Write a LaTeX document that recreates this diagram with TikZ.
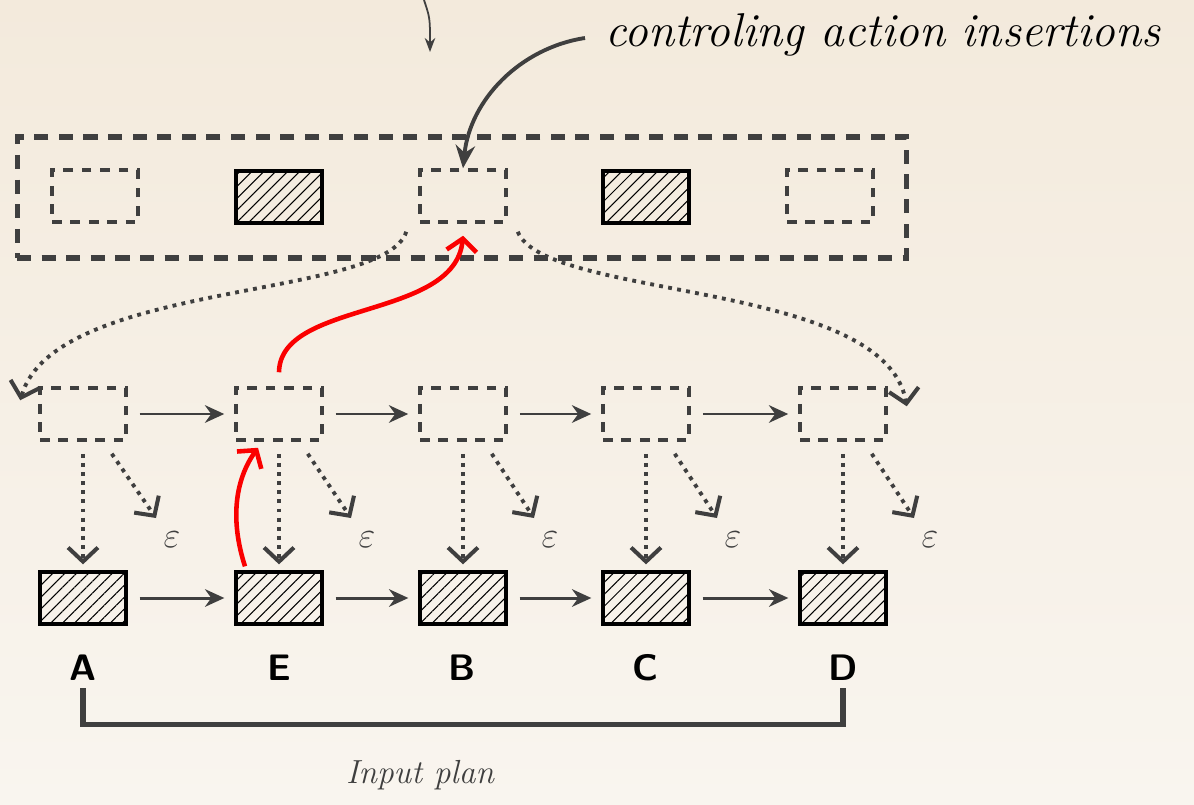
\documentclass[tikz,border=0pt]{standalone}
\usetikzlibrary{arrows.meta,patterns.meta}
\definecolor{ink}{HTML}{3F3F3F}
\definecolor{bgtop}{RGB}{243,234,220}
\definecolor{bgbot}{RGB}{249,245,239}
\definecolor{redline}{RGB}{250,0,0}
\tikzset{
  dbox/.style={draw=ink, line width=2pt, dash pattern=on 5.5pt off 5pt, minimum width=1.72cm, minimum height=1.04cm, inner sep=0pt},
  hbox/.style={draw=black, line width=1.9pt, pattern={Lines[angle=45,distance=4.8pt,line width=0.6pt]}, minimum width=1.72cm, minimum height=1.04cm, inner sep=0pt},
  outerbox/.style={draw=ink, line width=2.9pt, dash pattern=on 8pt off 6pt, minimum width=17.8cm, minimum height=2.42cm, inner sep=0pt},
  flow/.style={draw=ink, line width=1.7pt, -{Stealth[length=11pt,width=10pt]}, shorten <=0.24cm, shorten >=0.2cm},
  dotarrow/.style={draw=ink, line width=2.2pt, dash pattern=on 2.2pt off 3pt, -{Straight Barb[length=8pt,width=17pt,line width=2.3pt]}},
  redarrow/.style={draw=redline, line width=2.6pt, -{Straight Barb[length=7pt,width=17pt,line width=2.6pt]}},
  eps/.style={font=\fontsize{22}{26}\selectfont, text=ink, inner sep=0pt},
  letter/.style={font=\sffamily\bfseries\fontsize{21}{26}\selectfont, inner sep=2pt},
  hand/.style={font=\itshape\fontsize{27}{30}\selectfont, inner sep=0pt},
}
\begin{document}
\begin{tikzpicture}[x=0.02cm, y=-0.02cm]
\fill[top color=bgtop, bottom color=bgbot] (0,0) rectangle (1194,805);
\useasboundingbox (0,0) rectangle (1194,805);

% outer container
\node[outerbox] (outer) at (462,197.5) {};
% top row
\node[dbox] (t1) at (95,196) {};
\node[hbox] (t2) at (279,197) {};
\node[dbox] (t3) at (463,196) {};
\node[hbox] (t4) at (646,197) {};
\node[dbox] (t5) at (830,196) {};

% middle row
\node[dbox] (m1) at (83,414) {};
\node[dbox] (m2) at (279,414) {};
\node[dbox] (m3) at (463,414) {};
\node[dbox] (m4) at (646,414) {};
\node[dbox] (m5) at (843,414) {};

% bottom row
\node[hbox] (b1) at (83,598) {};
\node[hbox] (b2) at (279,598) {};
\node[hbox] (b3) at (463,598) {};
\node[hbox] (b4) at (646,598) {};
\node[hbox] (b5) at (843,598) {};

% epsilons
\node[eps] (e1) at (172,540) {$\varepsilon$};
\node[eps] (e2) at (367,540) {$\varepsilon$};
\node[eps] (e3) at (550,540) {$\varepsilon$};
\node[eps] (e4) at (733,540) {$\varepsilon$};
\node[eps] (e5) at (930,540) {$\varepsilon$};

% horizontal flows
\foreach \a/\b in {m1/m2,m2/m3,m3/m4,m4/m5,b1/b2,b2/b3,b3/b4,b4/b5}
  \draw[flow] (\a.east) -- (\b.west);

% dotted down arrows and epsilon arrows
\foreach \i in {1,...,5}{
  \draw[dotarrow, shorten <=0.24cm, shorten >=0.12cm] (m\i.south) -- (b\i.north);
  \draw[dotarrow] ([shift={(-16,12)}]m\i.south east) -- ([shift={(-16,-22)}]e\i.center);
}

% dotted curves from the inserted slot
\draw[dotarrow] ([shift={(-12,8)}]t3.south west) .. controls (385,300) and (55,280) .. ([shift={(-18,14)}]m1.north west);
\draw[dotarrow] ([shift={(10,8)}]t3.south east) .. controls (545,300) and (885,280) .. ([shift={(19,20)}]m5.north east);

% red insertion arrows
\draw[redarrow] ([shift={(-34,-4)}]b2.north) .. controls (230,520) and (235,480) .. ([shift={(-21,6)}]m2.south);
\draw[redarrow] ([shift={(0,-14)}]m2.north) .. controls (280,300) and (455,320) .. ([shift={(0,12)}]t3.south);

% annotation
\node[hand, anchor=west] (lab) at (605,35) {controling action insertions};
\coordinate (labstart) at (585,38);
\draw[ink, line width=2.2pt, -{Stealth[length=13pt,width=11pt]}] (labstart) .. controls (520,48) and (470,100) .. (t3.north);
\coordinate (topstart) at (424,0);
\coordinate (topend) at (430,52);
\draw[ink, line width=1pt, -{Stealth[length=8pt,width=6pt]}] (topstart) .. controls (430,18) .. (topend);

% letters
\node[letter] (lA) at (83,668) {A};
\node[letter] (lE) at (279,668) {E};
\node[letter] (lB) at (462,668) {B};
\node[letter] (lC) at (645,668) {C};
\node[letter] (lD) at (843,668) {D};

% bracket
\draw[ink, line width=3pt] ([yshift=-2pt]lA.south) -- ++(0,36) -| ([yshift=-2pt]lD.south);
\node[hand, font=\itshape\fontsize{19}{22}\selectfont, text=ink] (inp) at (420,775) {Input plan};
\end{tikzpicture}
\end{document}
